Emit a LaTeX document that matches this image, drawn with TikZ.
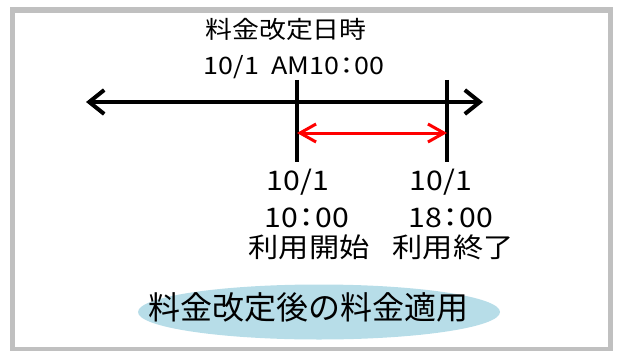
\documentclass[tikz,border=0pt]{standalone}
\usepackage{fontspec}
\usepackage{tikz}
\usetikzlibrary{arrows.meta,positioning}

\newfontfamily\jpwide[FakeStretch=1.12]{Noto Sans CJK JP}
\newfontfamily\jpfont{Noto Sans CJK JP}
\definecolor{FrameGray}{RGB}{192,192,192}
\definecolor{PaleBlue}{RGB}{183,221,232}
\newcommand{\tcolon}{\kern-0.24em：\kern-0.24em}

\begin{document}
\begin{tikzpicture}[x=1pt, y=-1pt]
		\tikzstyle{Head}	= [inner sep=0pt, anchor=base, font=\jpwide\fontsize{24}{27}\selectfont]
		\tikzstyle{Label}	= [inner sep=0pt, anchor=base, font=\jpwide\fontsize{27}{30}\selectfont]
		\tikzstyle{Axis}	= [line width=4pt, black, {Straight Barb[length=15pt,width=24pt]}-{Straight Barb[length=15pt,width=24pt]}]
		\tikzstyle{Tick}	= [line width=3.5pt, black]
		\tikzstyle{Span}	= [line width=3pt, red, {Straight Barb[length=16pt,width=18pt]}-{Straight Barb[length=16pt,width=18pt]}]
		
		\useasboundingbox (0,0) rectangle (617,350);
		\draw [FrameGray, line width=5.5pt] (12.5,10) rectangle (610.5,349.5);
		
		\node (head1) at (286,39) [Head] {料金改定日時};
		\node (head2) at (294,75) [Head] {10/1\hspace{0.5em}AM10\tcolon 00};
		
		\coordinate (axL) at (86,102);
		\coordinate (axR) at (483,102);
		\coordinate (t1top) at (297,80);
		\coordinate (t1bot) at (297,162);
		\coordinate (t2top) at (447,80);
		\coordinate (t2bot) at (447,162);
		\coordinate (sp1) at (297,133);
		\coordinate (sp2) at (447,133);
		
		\draw (axL) -- (axR) [Axis];
		\draw (t1top) -- (t1bot) [Tick];
		\draw (t2top) -- (t2bot) [Tick];
		\draw (sp1) -- (sp2) [Span];
		
		\node (d1) at (298,190) [Label] {10/1};
		\node (h1) at (307,227) [Label] {10\tcolon 00};
		\node (w1) at (309,257) [Label] {利用開始};
		\node (d2) at (441,190) [Label] {10/1};
		\node (h2) at (451,227) [Label] {18\tcolon 00};
		\node (w2) at (453,257) [Label] {利用終了};
		
		\fill [PaleBlue] (319,312) ellipse (181 and 27.5);
		\node (apply) at (308,319) [inner sep=0pt, anchor=base, font=\jpfont\fontsize{32}{36}\selectfont] {料金改定後の料金適用};
	\end{tikzpicture}
\end{document}
